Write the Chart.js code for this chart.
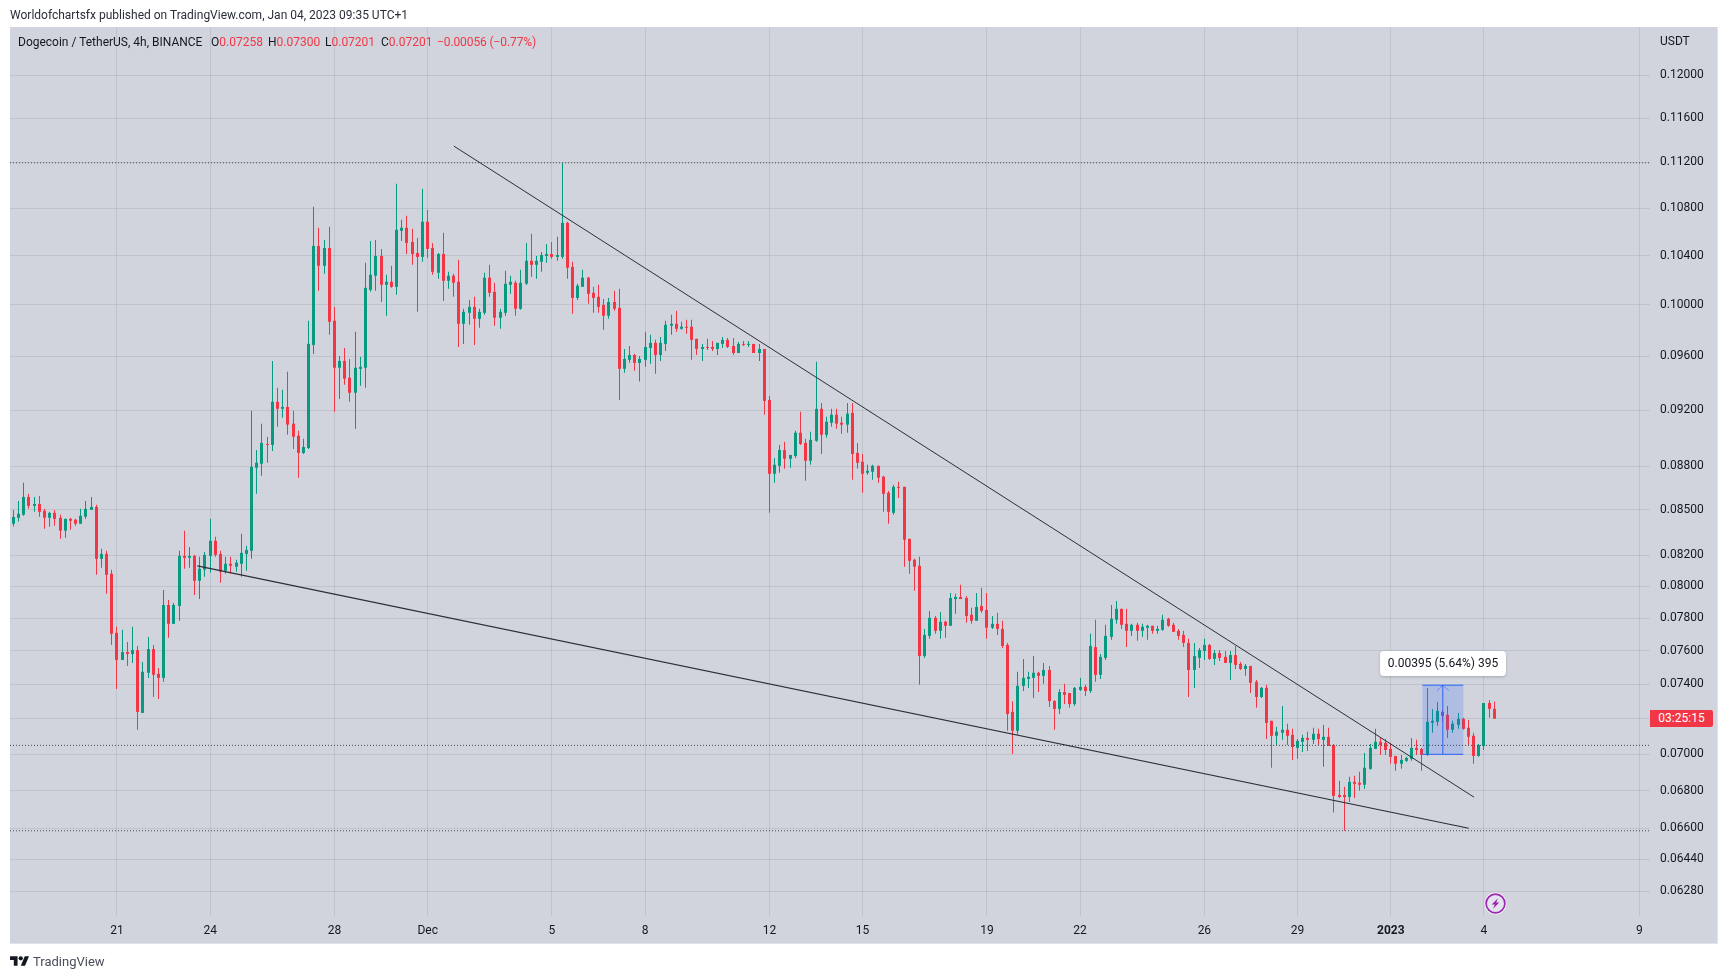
<!DOCTYPE html>
<html>
<head>
<meta charset="utf-8">
<title>DOGE/USDT 4h</title>
<script src="https://cdn.jsdelivr.net/npm/chart.js@4"></script>
<style>
    body { margin: 0; background: #fff; overflow: hidden; font-family: Roboto, sans-serif; }
    #panel { position: absolute; left: 10px; top: 27px; width: 1707px; height: 916px; background: #d1d4dc; border-right: 1px solid #e0e3eb; border-bottom: 1px solid #e0e3eb; }
    canvas { position: absolute; left: 0; top: 0; }
    .txt { position: absolute; white-space: nowrap; color: #131722; font-size: 12px; line-height: 16px; }
    .red { color: #f23645; }
    #tip { position: absolute; left: 1380px; top: 651px; width: 126px; height: 25px; line-height: 25px; background: #fff; border-radius: 4px; text-align: center; box-shadow: 0 1px 3px rgba(0,0,0,.2); font-size: 12px; color: #131722; }
    #timer { position: absolute; left: 1650px; top: 710px; width: 63px; height: 17px; line-height: 17px; background: #f23645; border-radius: 0 2px 2px 0; text-align: center; color: #fff; font-size: 12px; }
</style>
</head>
<body>
<div id="panel"></div>
<canvas id="candleChart" width="1728" height="979"></canvas>

<div class="txt" style="left:10px;top:7px;color:#2a2e39">Worldofchartsfx published on TradingView.com, Jan 04, 2023 09:35 UTC+1</div>
<div class="txt" style="left:18px;top:34px">Dogecoin / TetherUS, 4h, BINANCE</div>
<div class="txt" style="left:211px;top:34px">O<span class="red">0.07258</span></div>
<div class="txt" style="left:268px;top:34px">H<span class="red">0.07300</span></div>
<div class="txt" style="left:325px;top:34px">L<span class="red">0.07201</span></div>
<div class="txt" style="left:381px;top:34px">C<span class="red">0.07201</span></div>
<div class="txt red" style="left:437px;top:34px;letter-spacing:-0.1px">−0.00056 (−0.77%)</div>
<div class="txt" style="left:1660px;top:33px">USDT</div>
<div id="tip">0.00395 (5.64%) 395</div>
<div id="timer">03:25:15</div>

<svg style="position:absolute;left:1484px;top:892px" width="23" height="23" viewBox="0 0 24 24">
    <circle cx="12" cy="12" r="11.5" fill="#fff" opacity="0.75"/>
    <circle cx="12" cy="12" r="9.8" fill="#e4e4ee" stroke="#9c27b0" stroke-width="1.8"/>
    <path d="M14.5 6.5 L8 13 H11.2 L9.5 17.5 L16 11 H12.8 Z" fill="#9c27b0"/>
</svg>
<svg style="position:absolute;left:10px;top:954px" width="19.4" height="15" viewBox="0 0 36 28">
    <path d="M14 22H7V11H0V4h14v18zM28 22h-8l7.5-18h8L28 22z" fill="#131722"/>
    <circle cx="20" cy="8" r="4" fill="#131722"/>
</svg>
<div class="txt" style="left:33px;top:954px;font-size:13px;color:#4a4e59">TradingView</div>

<script>
// 4h candles
const candleOpen = [
    0.08406,0.08446,0.08466,0.08587,0.08526,0.08539,0.08493,0.08446,0.08479,0.08446,
    0.08360,0.08439,0.08433,0.08406,0.08453,0.08499,0.08519,0.08175,0.08207,0.08079,
    0.07709,0.07545,0.07592,0.07580,0.07604,0.07234,0.07468,0.07610,0.07462,0.07438,
    0.07881,0.07764,0.07875,0.08194,0.08182,0.08194,0.08034,0.08105,0.08194,0.08293,
    0.08207,0.08098,0.08143,0.08124,0.08143,0.08207,0.08227,0.08788,0.08816,0.08955,
    0.08949,0.09260,0.09209,0.09223,0.09101,0.09014,0.08892,0.08927,0.09688,0.10480,
    0.10316,0.10463,0.09876,0.09514,0.09566,0.09439,0.09327,0.09506,0.09514,0.10121,
    0.10235,0.10397,0.10162,0.10186,0.10145,0.10607,0.10632,0.10513,0.10421,0.10389,
    0.10683,0.10463,0.10259,0.10413,0.10194,0.10235,0.10186,0.09852,0.09938,0.09985,
    0.09891,0.09938,0.10219,0.10105,0.09899,0.09938,0.10162,0.10178,0.09970,0.10170,
    0.10357,0.10324,0.10349,0.10397,0.10413,0.10389,0.10389,0.10674,0.10308,0.10056,
    0.10145,0.10219,0.10097,0.10065,0.10001,0.09915,0.10024,0.09977,0.09506,0.09574,
    0.09611,0.09551,0.09574,0.09665,0.09704,0.09611,0.09696,0.09837,0.09852,0.09813,
    0.09829,0.09829,0.09735,0.09657,0.09672,0.09672,0.09657,0.09696,0.09727,0.09680,
    0.09626,0.09696,0.09688,0.09696,0.09626,0.09657,0.09274,0.08746,0.08802,0.08913,
    0.08851,0.08871,0.09036,0.08963,0.08837,0.08978,0.09209,0.09021,0.09108,0.09166,
    0.09108,0.09094,0.09180,0.08892,0.08830,0.08753,0.08760,0.08802,0.08726,0.08615,
    0.08479,0.08656,0.08656,0.08306,0.08169,0.08130,0.07568,0.07690,0.07801,0.07721,
    0.07777,0.07752,0.07918,0.07931,0.07925,0.07820,0.07783,0.07875,0.07850,0.07740,
    0.07764,0.07733,0.07635,0.07240,0.07132,0.07391,0.07432,0.07438,0.07468,0.07450,
    0.07485,0.07302,0.07257,0.07355,0.07349,0.07285,0.07367,0.07385,0.07361,0.07622,
    0.07456,0.07557,0.07684,0.07789,0.07857,0.07764,0.07721,0.07758,0.07721,0.07740,
    0.07752,0.07721,0.07727,0.07795,0.07758,0.07721,0.07696,0.07647,0.07485,0.07557,
    0.07598,0.07635,0.07551,0.07586,0.07563,0.07527,0.07574,0.07521,0.07491,0.07509,
    0.07415,0.07326,0.07379,0.07189,0.07104,0.07121,0.07138,0.07109,0.07036,0.07070,
    0.07092,0.07081,0.07115,0.07081,0.07098,0.07052,0.06778,0.06778,0.06767,0.06849,
    0.06844,0.06833,0.06920,0.07030,0.07070,0.07064,0.07030,0.06991,0.06948,0.06964,
    0.06975,0.07036,0.07030,0.06997,0.07177,0.07183,0.07240,0.07223,0.07138,0.07166,
    0.07200,0.07149,0.07104,0.06991,0.07047,0.07291,0.07258
];
const candleHigh = [
    0.08499,0.08559,0.08684,0.08608,0.08587,0.08594,0.08506,0.08486,0.08499,0.08466,
    0.08439,0.08446,0.08439,0.08506,0.08559,0.08587,0.08533,0.08240,0.08227,0.08105,
    0.07746,0.07727,0.07653,0.07746,0.07629,0.07533,0.07684,0.07635,0.07497,0.07976,
    0.07912,0.07894,0.08227,0.08360,0.08253,0.08201,0.08188,0.08220,0.08439,0.08320,
    0.08227,0.08188,0.08188,0.08169,0.08340,0.08260,0.09195,0.08913,0.09101,0.09007,
    0.09566,0.09364,0.09349,0.09484,0.09195,0.09050,0.08992,0.09876,0.10810,0.10632,
    0.10530,0.10640,0.09985,0.09604,0.09665,0.09581,0.09790,0.09597,0.10340,0.10522,
    0.10530,0.10455,0.10243,0.10316,0.11010,0.10700,0.10734,0.10624,0.10547,0.10966,
    0.10784,0.10505,0.10421,0.10590,0.10267,0.10251,0.10365,0.09970,0.10040,0.10065,
    0.09970,0.10259,0.10324,0.10178,0.09970,0.10275,0.10235,0.10194,0.10283,0.10505,
    0.10581,0.10397,0.10430,0.10497,0.10513,0.10556,0.11195,0.10683,0.10349,0.10170,
    0.10283,0.10227,0.10145,0.10162,0.10048,0.10056,0.10113,0.10129,0.09657,0.09680,
    0.09619,0.09604,0.09790,0.09766,0.09727,0.09750,0.09876,0.09923,0.09954,0.09868,
    0.09884,0.09884,0.09735,0.09696,0.09735,0.09719,0.09704,0.09750,0.09742,0.09742,
    0.09711,0.09719,0.09719,0.09696,0.09696,0.09657,0.09304,0.08857,0.08949,0.08971,
    0.08878,0.09050,0.09187,0.08992,0.09043,0.09559,0.09252,0.09151,0.09209,0.09209,
    0.09151,0.09252,0.09252,0.08963,0.08885,0.08809,0.08809,0.08802,0.08733,0.08628,
    0.08670,0.08691,0.08656,0.08306,0.08175,0.08188,0.07733,0.07844,0.07813,0.07838,
    0.07783,0.07957,0.07951,0.08008,0.07938,0.07863,0.07957,0.07989,0.07957,0.07813,
    0.07832,0.07783,0.07647,0.07302,0.07474,0.07551,0.07474,0.07568,0.07474,0.07527,
    0.07509,0.07308,0.07373,0.07403,0.07349,0.07385,0.07438,0.07397,0.07703,0.07789,
    0.07580,0.07758,0.07881,0.07906,0.07857,0.07857,0.07764,0.07771,0.07764,0.07758,
    0.07752,0.07752,0.07820,0.07801,0.07771,0.07733,0.07721,0.07672,0.07647,0.07616,
    0.07672,0.07641,0.07604,0.07604,0.07598,0.07598,0.07629,0.07533,0.07521,0.07509,
    0.07426,0.07385,0.07397,0.07189,0.07155,0.07274,0.07172,0.07143,0.07086,0.07109,
    0.07127,0.07149,0.07143,0.07166,0.07149,0.07058,0.06855,0.06822,0.06877,0.06882,
    0.06904,0.07008,0.07058,0.07143,0.07092,0.07086,0.07064,0.06991,0.06997,0.06986,
    0.07092,0.07081,0.07036,0.07379,0.07257,0.07297,0.07251,0.07274,0.07189,0.07234,
    0.07206,0.07194,0.07121,0.07058,0.07291,0.07308,0.07300
];
const candleLow = [
    0.08388,0.08421,0.08459,0.08506,0.08486,0.08453,0.08373,0.08386,0.08393,0.08306,
    0.08313,0.08366,0.08393,0.08406,0.08439,0.08499,0.08072,0.08117,0.07951,0.07635,
    0.07373,0.07545,0.07509,0.07527,0.07138,0.07234,0.07438,0.07326,0.07314,0.07415,
    0.07678,0.07764,0.07783,0.08111,0.08117,0.07944,0.07918,0.08060,0.08085,0.08188,
    0.08021,0.08079,0.08079,0.08092,0.08060,0.08098,0.08175,0.08608,0.08733,0.08823,
    0.08906,0.09079,0.09144,0.09021,0.08920,0.08719,0.08885,0.08920,0.09619,0.10113,
    0.10251,0.09766,0.09187,0.09281,0.09387,0.09260,0.09065,0.09379,0.09364,0.10105,
    0.10113,0.10024,0.09915,0.10137,0.10081,0.10522,0.10413,0.10324,0.09946,0.10349,
    0.10381,0.10243,0.10210,0.10032,0.10129,0.10065,0.09672,0.09696,0.09844,0.09688,
    0.09821,0.09923,0.10065,0.09837,0.09813,0.09915,0.10089,0.09915,0.09962,0.10162,
    0.10227,0.10210,0.10267,0.10340,0.10373,0.10357,0.10373,0.10210,0.09930,0.10040,
    0.10145,0.10009,0.09938,0.09938,0.09805,0.09891,0.09954,0.09274,0.09476,0.09551,
    0.09491,0.09411,0.09521,0.09544,0.09469,0.09566,0.09642,0.09766,0.09790,0.09805,
    0.09774,0.09574,0.09611,0.09566,0.09649,0.09642,0.09611,0.09665,0.09665,0.09611,
    0.09626,0.09680,0.09672,0.09626,0.09566,0.09166,0.08479,0.08684,0.08753,0.08781,
    0.08788,0.08857,0.08949,0.08698,0.08809,0.08971,0.08885,0.08999,0.09079,0.09065,
    0.09028,0.09036,0.08705,0.08781,0.08615,0.08740,0.08705,0.08684,0.08486,0.08406,
    0.08466,0.08580,0.08124,0.08079,0.07970,0.07397,0.07557,0.07672,0.07703,0.07672,
    0.07678,0.07752,0.07826,0.07918,0.07771,0.07764,0.07783,0.07832,0.07672,0.07733,
    0.07696,0.07616,0.07132,0.07002,0.07109,0.07361,0.07379,0.07320,0.07355,0.07403,
    0.07268,0.07138,0.07228,0.07285,0.07263,0.07274,0.07361,0.07332,0.07349,0.07415,
    0.07432,0.07545,0.07666,0.07764,0.07733,0.07622,0.07690,0.07660,0.07684,0.07666,
    0.07703,0.07703,0.07721,0.07746,0.07715,0.07666,0.07622,0.07326,0.07379,0.07497,
    0.07545,0.07545,0.07515,0.07539,0.07527,0.07426,0.07491,0.07485,0.07450,0.07349,
    0.07263,0.07320,0.07086,0.06926,0.07052,0.07081,0.07052,0.06969,0.06975,0.07013,
    0.07019,0.07058,0.07052,0.06931,0.07047,0.06684,0.06762,0.06588,0.06740,0.06762,
    0.06800,0.06811,0.06915,0.07030,0.06997,0.06997,0.06948,0.06909,0.06920,0.06958,
    0.06964,0.06997,0.06909,0.06991,0.07121,0.07160,0.07183,0.07092,0.07121,0.07143,
    0.07138,0.07052,0.06948,0.06986,0.07024,0.07206,0.07201
];
const candleClose = [
    0.08451,0.08473,0.08587,0.08526,0.08539,0.08486,0.08446,0.08479,0.08439,0.08360,
    0.08439,0.08426,0.08406,0.08459,0.08506,0.08519,0.08175,0.08207,0.08072,0.07703,
    0.07545,0.07592,0.07580,0.07604,0.07240,0.07474,0.07610,0.07456,0.07438,0.07881,
    0.07764,0.07881,0.08194,0.08182,0.08194,0.08034,0.08111,0.08201,0.08293,0.08201,
    0.08092,0.08143,0.08130,0.08150,0.08214,0.08233,0.08795,0.08823,0.08963,0.08948,
    0.09260,0.09209,0.09223,0.09094,0.09007,0.08892,0.08934,0.09696,0.10480,0.10316,
    0.10463,0.09868,0.09514,0.09566,0.09432,0.09327,0.09514,0.09521,0.10137,0.10243,
    0.10397,0.10162,0.10186,0.10145,0.10615,0.10632,0.10505,0.10413,0.10389,0.10683,
    0.10455,0.10267,0.10413,0.10194,0.10235,0.10178,0.09852,0.09946,0.09985,0.09891,
    0.09946,0.10219,0.10097,0.09899,0.09946,0.10170,0.10186,0.09970,0.10178,0.10357,
    0.10324,0.10357,0.10405,0.10413,0.10389,0.10405,0.10674,0.10300,0.10056,0.10154,
    0.10219,0.10089,0.10056,0.09985,0.09915,0.10024,0.09970,0.09506,0.09581,0.09611,
    0.09551,0.09581,0.09672,0.09704,0.09611,0.09704,0.09844,0.09852,0.09813,0.09829,
    0.09821,0.09727,0.09657,0.09672,0.09665,0.09657,0.09704,0.09727,0.09672,0.09626,
    0.09696,0.09688,0.09696,0.09626,0.09657,0.09267,0.08746,0.08809,0.08913,0.08851,
    0.08878,0.09036,0.08956,0.08837,0.08985,0.09209,0.09021,0.09115,0.09166,0.09101,
    0.09094,0.09173,0.08885,0.08823,0.08746,0.08767,0.08802,0.08719,0.08608,0.08486,
    0.08656,0.08649,0.08300,0.08162,0.08124,0.07568,0.07696,0.07801,0.07721,0.07777,
    0.07752,0.07925,0.07931,0.07918,0.07813,0.07783,0.07869,0.07844,0.07740,0.07764,
    0.07733,0.07629,0.07228,0.07132,0.07391,0.07438,0.07444,0.07468,0.07450,0.07485,
    0.07302,0.07257,0.07355,0.07338,0.07285,0.07379,0.07385,0.07361,0.07629,0.07456,
    0.07563,0.07690,0.07795,0.07857,0.07758,0.07721,0.07758,0.07721,0.07746,0.07752,
    0.07721,0.07733,0.07789,0.07752,0.07715,0.07690,0.07647,0.07485,0.07568,0.07604,
    0.07635,0.07551,0.07586,0.07557,0.07527,0.07574,0.07515,0.07491,0.07509,0.07409,
    0.07326,0.07379,0.07177,0.07104,0.07127,0.07138,0.07104,0.07041,0.07075,0.07092,
    0.07081,0.07115,0.07086,0.07098,0.07047,0.06773,0.06767,0.06767,0.06849,0.06838,
    0.06833,0.06926,0.07036,0.07070,0.07052,0.07024,0.06986,0.06948,0.06969,0.06980,
    0.07036,0.07024,0.06997,0.07183,0.07189,0.07246,0.07217,0.07138,0.07172,0.07200,
    0.07143,0.07098,0.06991,0.07052,0.07291,0.07257,0.07201
];

// Axes: candle number for each date label, price ticks
const xTickIndex = [20, 38, 62, 80, 104, 122, 146, 164, 188, 206, 230, 248, 266, 284, 314];
const xTickLabels = ['21', '24', '28', 'Dec', '5', '8', '12', '15', '19', '22', '26', '29', '2023', '4', '9'];
const yTicks = [0.12, 0.116, 0.112, 0.108, 0.104, 0.1, 0.096, 0.092, 0.088, 0.085, 0.082, 0.08, 0.078, 0.076, 0.074, 0.072, 0.07, 0.068, 0.066, 0.0644, 0.0628];
const xRange = [-0.657, 316.06];
const yRange = [0.06157, 0.12469];

// Drawings on the chart
const upperTrendX = [85.07, 282.08];
const upperTrendY = [0.11344, 0.06766];
const lowerTrendX = [35.52, 281.05];
const lowerTrendY = [0.0813, 0.06601];
const levels = [0.11195, 0.0705, 0.06588];
const measureX = [272.1, 280.0];
const measureMidX = 276.05;
const measureY = [0.07, 0.07395];
const measureArrowX = [274.9, 276.05, 277.2];
const measureArrowY = [0.07363, 0.07395, 0.07363];

const UP = '#089981';
const DOWN = '#f23645';
const LINE = '#2a2e39';
const BLUE = '#2962ff';
const FONT = 'Roboto, sans-serif';

const candleColors = candleClose.map((c, i) => (c >= candleOpen[i] ? UP : DOWN));

function pairLine(xs, ys, color, width, extra) {
    return Object.assign({
        type: 'line',
        data: xs.map((x, i) => ({ x: x, y: ys[i] })),
        borderColor: color,
        borderWidth: width,
        pointRadius: 0,
        tension: 0,
        order: 0
    }, extra || {});
}

const datasets = [
    {
        label: 'wick',
        data: candleHigh.map((h, i) => ({ x: i, y: [candleLow[i], h] })),
        backgroundColor: candleColors,
        barThickness: 1,
        grouped: false,
        inflateAmount: 0,
        order: 3
    },
    {
        label: 'body',
        data: candleOpen.map((o, i) => ({ x: i, y: [o, candleClose[i]] })),
        backgroundColor: candleColors,
        barThickness: 3,
        grouped: false,
        inflateAmount: 0,
        minBarLength: 1,
        order: 2
    },
    {
        label: 'measure',
        data: [{ x: measureMidX, y: measureY }],
        backgroundColor: 'rgba(41, 98, 255, 0.2)',
        barThickness: 41,
        grouped: false,
        inflateAmount: 0,
        order: 1
    },
    pairLine(measureX, [measureY[0], measureY[0]], BLUE, 1),
    pairLine(measureX, [measureY[1], measureY[1]], BLUE, 1),
    pairLine([measureMidX, measureMidX], measureY, BLUE, 1),
    pairLine(measureArrowX, measureArrowY, 'rgba(41, 98, 255, 0.55)', 1),
    pairLine(upperTrendX, upperTrendY, LINE, 1),
    pairLine(lowerTrendX, lowerTrendY, LINE, 1.2)
];
levels.forEach(level => {
    datasets.push(pairLine(xRange, [level, level], '#434651', 1, { borderDash: [1, 2] }));
});

// Snap candles to whole pixels so wicks stay crisp
const snapCandles = {
    id: 'snapCandles',
    afterDatasetsUpdate(chart) {
        [0, 1].forEach(n => {
            chart.getDatasetMeta(n).data.forEach(bar => {
                bar.x = Math.floor(bar.x) + 0.5;
            });
        });
    }
};

new Chart(document.getElementById('candleChart'), {
    type: 'bar',
    data: { datasets: datasets },
    plugins: [snapCandles],
    options: {
        responsive: false,
        devicePixelRatio: 1,
        animation: false,
        layout: { padding: { left: 10, top: 27, right: 10, bottom: 35 } },
        plugins: {
            legend: { display: false },
            tooltip: { enabled: false }
        },
        scales: {
            x: {
                type: 'linear',
                offset: false,
                min: xRange[0],
                max: xRange[1],
                afterBuildTicks: scale => { scale.ticks = xTickIndex.map(v => ({ value: v })); },
                afterFit: scale => { scale.height = 28; },
                grid: { color: 'rgba(42, 46, 57, 0.1)', drawTicks: false, offset: false },
                border: { display: false },
                ticks: {
                    autoSkip: false,
                    maxRotation: 0,
                    padding: 8,
                    color: '#131722',
                    font: c => ({ family: FONT, size: 12, weight: xTickLabels[c.index] === '2023' ? 'bold' : 'normal' }),
                    callback: (v, i) => xTickLabels[i]
                }
            },
            y: {
                type: 'logarithmic',
                position: 'right',
                min: yRange[0],
                max: yRange[1],
                afterBuildTicks: scale => { scale.ticks = yTicks.map(v => ({ value: v })); },
                afterFit: scale => { scale.width = 68; },
                grid: { color: 'rgba(42, 46, 57, 0.1)', drawTicks: false },
                border: { display: false },
                ticks: {
                    autoSkip: false,
                    padding: 10,
                    color: '#131722',
                    font: { family: FONT, size: 12 },
                    callback: v => Number(v).toFixed(5)
                }
            }
        }
    }
});
</script>
</body>
</html>
